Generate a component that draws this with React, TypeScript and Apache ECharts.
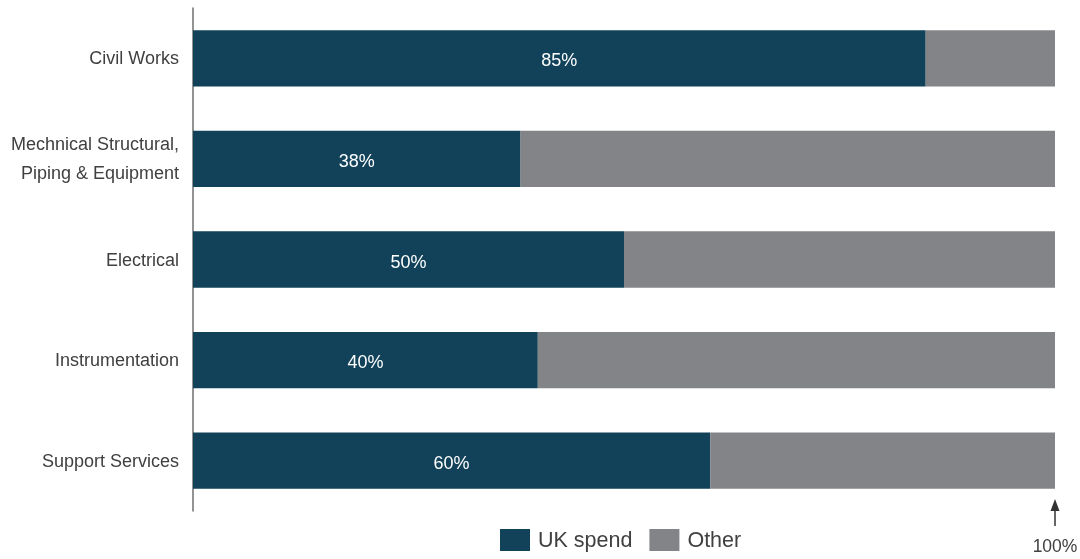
import React, { useEffect, useRef } from "react";
import * as echarts from "echarts";

const categories = [
  "Civil Works",
  "Mechnical Structural,\nPiping & Equipment",
  "Electrical",
  "Instrumentation",
  "Support Services",
];
const ukSpend = [85, 38, 50, 40, 60];
const other = ukSpend.map((v) => 100 - v);
const seriesNames = ["UK spend", "Other"];
const maxLabel = "100%";

const DARK = "#11425a";
const GREY = "#838487";
const TEXT = "#404040";
const FONT = "Liberation Sans, Arial, sans-serif";

export default function App() {
  const ref = useRef<HTMLDivElement>(null);
  useEffect(() => {
    const chart = echarts.init(ref.current!, null, { renderer: "svg" });
    chart.setOption({
      animation: false,
      textStyle: { fontFamily: FONT },
      grid: { left: 193, right: 25, top: 8, bottom: 48, containLabel: false },
      legend: {
        data: seriesNames,
        left: 495,
        top: 524,
        itemWidth: 30,
        itemHeight: 22,
        itemGap: 17,
        icon: "rect",
        textStyle: { fontSize: 21.5, color: TEXT, fontFamily: FONT, padding: [0, 0, 0, 3] },
      },
      xAxis: {
        type: "value",
        min: 0,
        max: 100,
        show: false,
      },
      yAxis: {
        type: "category",
        data: categories,
        inverse: true,
        axisLine: { show: true, lineStyle: { color: "#6f6f6f", width: 1.5 } },
        axisTick: { show: false },
        axisLabel: {
          fontSize: 18,
          color: TEXT,
          margin: 14,
          lineHeight: 29,
          fontFamily: FONT,
        },
        splitLine: { show: false },
      },
      series: [
        {
          name: seriesNames[0],
          type: "bar",
          stack: "total",
          data: ukSpend,
          barWidth: "56%",
          itemStyle: { color: DARK },
          label: {
            show: true,
            position: "inside",
            formatter: "{c}%",
            color: "#ffffff",
            fontSize: 18,
            fontFamily: FONT,
            offset: [0, 2],
          },
        },
        {
          name: seriesNames[1],
          type: "bar",
          stack: "total",
          data: other,
          barWidth: "56%",
          itemStyle: { color: GREY },
        },
      ],
    });
    const px = chart.convertToPixel({ xAxisIndex: 0 }, 100) as number;
    chart.setOption({
      graphic: [
        {
          type: "line",
          shape: { x1: px, y1: 526, x2: px, y2: 506 },
          style: { stroke: "#333", lineWidth: 1.5 },
        },
        {
          type: "polygon",
          shape: { points: [[px - 4.5, 511], [px + 4.5, 511], [px, 499]] },
          style: { fill: "#333" },
        },
        {
          type: "text",
          x: px,
          y: 537,
          style: {
            text: maxLabel,
            fontSize: 17.5,
            fill: TEXT,
            fontFamily: FONT,
            align: "center",
            verticalAlign: "top",
          },
        },
      ],
    });
    return () => chart.dispose();
  }, []);
  return (
    <div
      ref={ref}
      style={{ position: "fixed", left: 0, top: 0, width: 1080, height: 559 }}
    />
  );
}
